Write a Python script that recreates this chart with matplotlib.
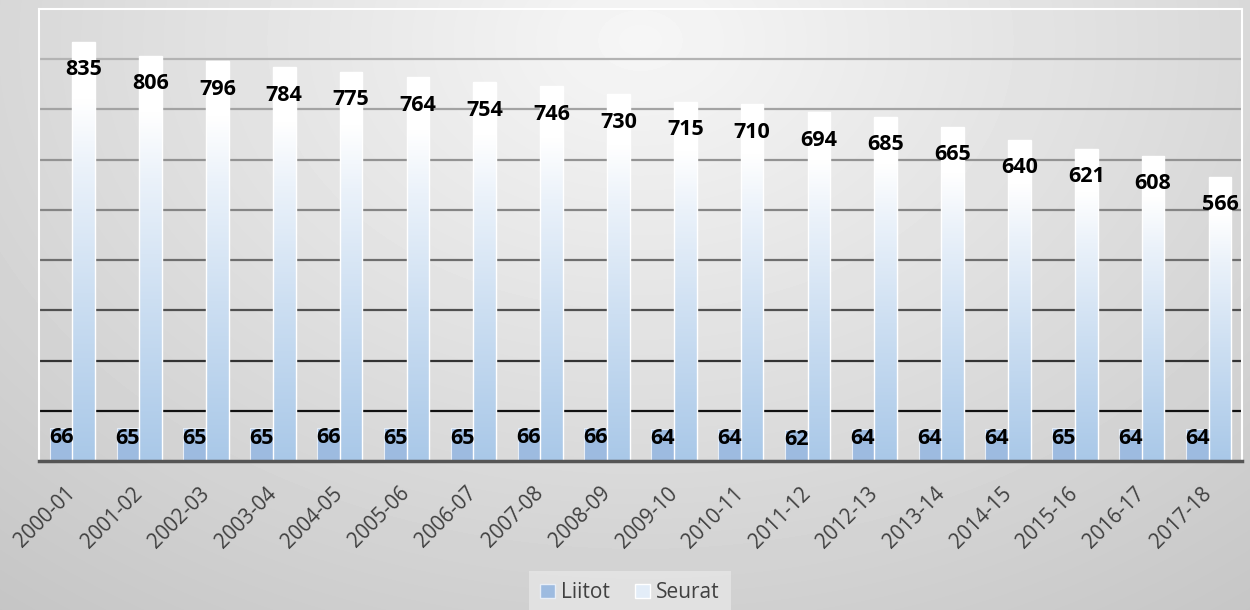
import numpy as np
import matplotlib.pyplot as plt
from matplotlib.colors import LinearSegmentedColormap
from matplotlib.patches import Patch

seasons = ['2000-01', '2001-02', '2002-03', '2003-04', '2004-05', '2005-06',
           '2006-07', '2007-08', '2008-09', '2009-10', '2010-11', '2011-12',
           '2012-13', '2013-14', '2014-15', '2015-16', '2016-17', '2017-18']
liitot = [66, 65, 65, 65, 66, 65, 65, 66, 66, 64, 64, 62, 64, 64, 64, 65, 64, 64]
seurat = [835, 806, 796, 784, 775, 764, 754, 746, 730, 715, 710, 694, 685, 665,
          640, 621, 608, 566]

grid_vals = [100, 200, 300, 400, 500, 600, 700, 800]
grid_cols = ['#111111', '#333333', '#505050', '#6e6e6e', '#858585', '#939393',
             '#a3a3a3', '#b3b3b3']

plt.rcParams['font.family'] = ['Open Sans', 'DejaVu Sans']

fig = plt.figure(figsize=(12.5, 6.1), dpi=100)

# background radial gradient
bg = fig.add_axes([0, 0, 1, 1], zorder=0)
yy, xx = np.mgrid[0:610, 0:1250]
r = np.sqrt(((xx - 640) / 900.0) ** 2 + ((yy - 40) / 650.0) ** 2)
shade = np.clip(0.965 - 0.17 * r, 0, 1)
bg.imshow(shade, cmap='gray', vmin=0, vmax=1, aspect='auto', interpolation='bilinear')
bg.axis('off')

ax = fig.add_axes([39 / 1250, 149 / 610, 1203 / 1250, 452 / 610], zorder=1)
ax.set_facecolor('none')

x = np.arange(len(seasons))
w = 0.34
b1 = ax.bar(x - w / 2, liitot, w, color='#9dbbe0', edgecolor='#e8eef6', linewidth=0.8, zorder=3)
b2 = ax.bar(x + w / 2, seurat, w, color='none', edgecolor='white', linewidth=1.0, zorder=4)

cmap = LinearSegmentedColormap.from_list('seu', [(0, '#a9c8e8'), (0.4, '#cddff2'),
                                                 (0.7, '#ebf2fa'), (0.86, '#ffffff'),
                                                 (1, '#ffffff')])
grad = np.linspace(1, 0, 256).reshape(-1, 1)
for p in b2:
    x0 = p.get_x()
    im = ax.imshow(grad, cmap=cmap, extent=[x0, x0 + p.get_width(), 0, p.get_height()],
                   aspect='auto', zorder=3, vmin=0, vmax=1)
    im.set_clip_path(p)

for v, c in zip(grid_vals, grid_cols):
    ax.axhline(v, color=c, linewidth=1.6, zorder=1)

for i in range(len(seasons)):
    ax.annotate(str(liitot[i]), (x[i] - w / 2, liitot[i]), xytext=(0, -7),
                textcoords='offset points', ha='center', va='center',
                fontsize=15.5, fontweight='bold', color='black', zorder=6)
    ax.annotate(str(seurat[i]), (x[i] + w / 2, seurat[i]), xytext=(0, -20),
                textcoords='offset points', ha='center', va='center',
                fontsize=15.5, fontweight='bold', color='black', zorder=6)

ax.set_xlim(-0.5, len(seasons) - 0.5)
ax.set_ylim(0, 900)
ax.set_yticks([])
ax.set_xticks(x)
ax.set_xticklabels(seasons, rotation=45, ha='right', va='center',
                   rotation_mode='anchor', fontsize=14.8, color='#404040')
ax.tick_params(axis='x', length=0, pad=20)
for s in ['left', 'right', 'top']:
    ax.spines[s].set_color('white')
    ax.spines[s].set_linewidth(1.5)
ax.spines['bottom'].set_color('#555555')
ax.spines['bottom'].set_linewidth(2.5)
ax.spines['bottom'].set_zorder(5)

# shift the tick labels so their top sits ~483 px from the top of the image
fig.canvas.draw()
bb = ax.get_xticklabels()[0].get_window_extent()
top_px = 610 - bb.y1
ax.tick_params(axis='x', pad=20 + (483 - top_px) * 72 / 100.0)

handles = [Patch(facecolor='#9dbbe0', edgecolor='#e8eef6'),
           Patch(facecolor='#e3edf8', edgecolor='white')]
leg = fig.legend(handles, ['Liitot', 'Seurat'], loc='lower center',
                 bbox_to_anchor=(0.504, -0.025), ncol=2, frameon=True,
                 fontsize=15, handlelength=0.7, handleheight=0.7,
                 handletextpad=0.3, columnspacing=1.2, borderpad=0.55)
leg.get_frame().set_facecolor('#e6e6e6')
leg.get_frame().set_edgecolor('none')
leg.get_frame().set_boxstyle('square', pad=0.0)
for t in leg.get_texts():
    t.set_color('#404040')

fig.savefig('out.png', dpi=100)
